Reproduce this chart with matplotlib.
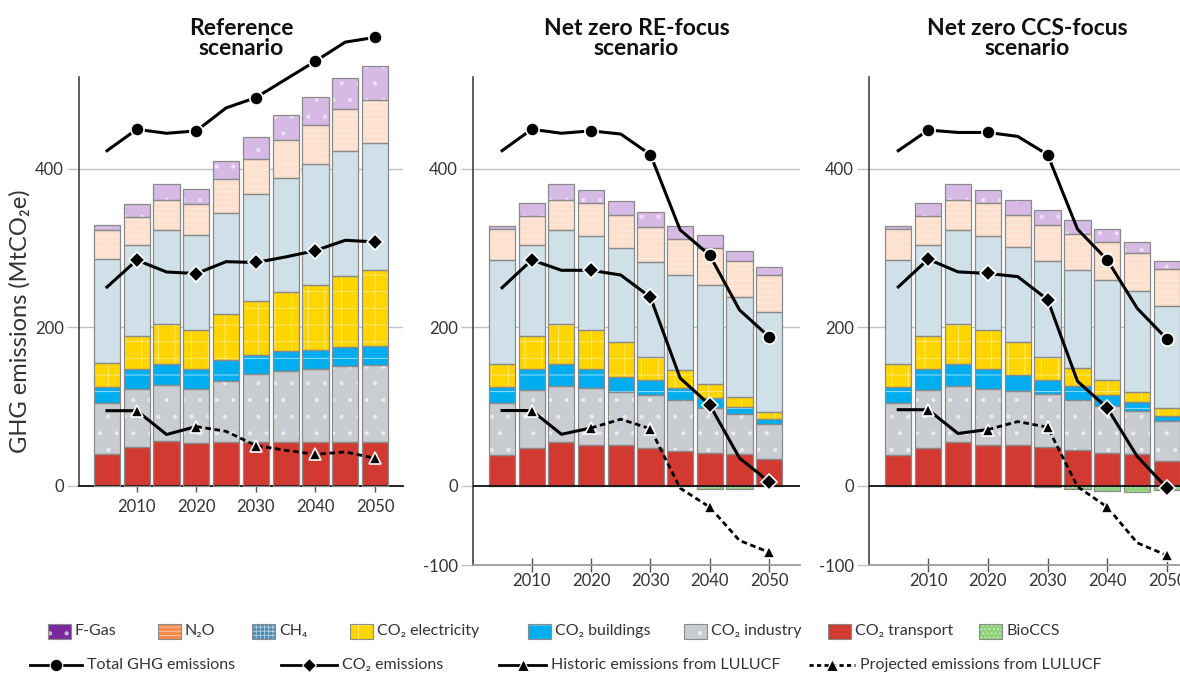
import matplotlib
matplotlib.use("Agg")
import matplotlib.pyplot as plt
from matplotlib.patches import Rectangle
from matplotlib.lines import Line2D

plt.rcParams['font.family'] = ['Lato', 'DejaVu Sans']
plt.rcParams['hatch.linewidth'] = 0.6

# ---------------- data ----------------
years = [2005, 2010, 2015, 2020, 2025, 2030, 2035, 2040, 2045, 2050]
hist_years = [2005, 2010, 2015, 2020]
proj_years = [2020, 2025, 2030, 2035, 2040, 2045, 2050]

titles = ["Reference\nscenario", "Net zero RE-focus\nscenario", "Net zero CCS-focus\nscenario"]

# Reference scenario (MtCO2e)
ref_transport = [41, 49, 57, 54, 55, 55, 55, 55, 55, 55]
ref_industry = [64, 73, 70, 69, 78, 86, 90, 93, 96, 98]
ref_buildings = [20, 26, 27, 25, 26, 24, 25, 24, 24, 24]
ref_electricity = [30, 41, 50, 49, 58, 68, 75, 82, 90, 95]
ref_ch4 = [131, 115, 119, 120, 128, 136, 144, 152, 158, 161]
ref_n2o = [37, 36, 38, 39, 42, 44, 47, 49, 52, 54]
ref_fgas = [6, 16, 20, 19, 23, 27, 32, 36, 40, 43]
ref_bioccs = [0, 0, 0, 0, 0, 0, 0, 0, 0, 0]
ref_total = [423, 450, 445, 448, 477, 490, 513, 536, 560, 566]
ref_co2 = [251, 285, 270, 268, 283, 282, 289, 297, 310, 308]
ref_lulucf_hist = [95, 95, 65, 75]
ref_lulucf_proj = [75, 69, 51, 45, 40, 43, 35]

# Net zero RE-focus scenario
re_transport = [39, 47.5, 55.5, 51.7, 50.9, 47.5, 43.3, 41.2, 40, 33.6]
re_industry = [65, 74, 71, 71.5, 67, 66.5, 64.4, 57, 51, 44.6]
re_buildings = [21, 26, 27.4, 24, 19, 19, 16.3, 12.6, 9, 6]
re_electricity = [28.6, 42, 50, 49.6, 45, 29.5, 22.4, 17.7, 11.9, 8.8]
re_ch4 = [131, 115, 119, 119, 118, 120, 120, 125, 126, 126]
re_n2o = [39, 36, 38, 41, 42, 44, 45, 47, 46, 47.5]
re_fgas = [4, 16, 20, 17, 18, 19, 17, 16, 12.5, 10]
re_bioccs = [0, 0, 0, 0, 0, 0, 0, -3.5, -3.5, 0]
re_total = [423, 450, 445, 448, 444, 418, 323, 291, 222, 188]
re_co2 = [250, 285, 272, 272, 266, 238, 136, 102, 35, 5]
re_lulucf_hist = [95, 95, 65, 73]
re_lulucf_proj = [73, 84, 72, -3, -27, -69, -84]

# Net zero CCS-focus scenario
ccs_transport = [39.1, 47.5, 55.5, 51.7, 50.9, 48.4, 44.6, 41.2, 40, 31.5]
ccs_industry = [65, 74, 71, 70.3, 69, 67.3, 64, 60, 55, 49.7]
ccs_buildings = [21, 26, 27, 25, 20, 18, 17, 13.4, 11, 7]
ccs_electricity = [28.6, 41, 50.4, 49.6, 41.3, 29.4, 23.2, 19, 12.2, 9.7]
ccs_ch4 = [131, 116, 119, 119, 120, 121, 123, 126, 128, 129]
ccs_n2o = [39, 36, 38, 41, 41, 44.6, 46.3, 47.6, 47.6, 46.7]
ccs_fgas = [4, 16, 20, 17, 18, 19.4, 16.8, 16.8, 13.4, 10.5]
ccs_bioccs = [0, 0, 0, 0, 0, -1.5, -4, -7, -8, -5]
ccs_total = [423, 449, 446, 446, 441, 418, 324, 285, 224, 185]
ccs_co2 = [251, 286, 270, 268, 264, 235, 132, 98, 37, -3]
ccs_lulucf_hist = [96, 96, 66, 71]
ccs_lulucf_proj = [71, 81, 74, -1, -27, -72, -88]

category_labels = ["F-Gas", "N₂O", "CH₄", "CO₂ electricity", "CO₂ buildings",
                   "CO₂ industry", "CO₂ transport", "BioCCS"]
line_labels = ["Total GHG emissions", "CO₂ emissions",
               "Historic emissions from LULUCF", "Projected emissions from LULUCF"]

# ---------------- styles ----------------
stack_keys = ["transport", "industry", "buildings", "electricity", "ch4", "n2o", "fgas"]
bar_colors = {"transport": "#d23a31", "industry": "#c9cdd1", "buildings": "#00aeef",
              "electricity": "#ffd500", "ch4": "#cfe0e8", "n2o": "#fde0cd",
              "fgas": "#d6b9e4", "bioccs": "#8fd27c"}
bar_hatch = {"transport": "", "industry": ".", "buildings": "-",
             "electricity": "+", "ch4": "", "n2o": "---", "fgas": ".", "bioccs": "...."}
hatch_alpha = {"transport": 0.0, "industry": 0.55, "buildings": 0.7,
               "electricity": 0.55, "ch4": 0.0, "n2o": 0.45, "fgas": 0.5, "bioccs": 0.5}
leg_colors = ["#7a2a9c", "#f58a4a", "#4a8cb3", "#ffd500", "#00aeef",
              "#c9cdd1", "#d23a31", "#8fd27c"]
leg_hatch = [".", "----", "++++", "+", "-", ".", "", "...."]

scen = [
    dict(transport=ref_transport, industry=ref_industry, buildings=ref_buildings,
         electricity=ref_electricity, ch4=ref_ch4, n2o=ref_n2o, fgas=ref_fgas,
         bioccs=ref_bioccs, total=ref_total, co2=ref_co2,
         hist=ref_lulucf_hist, proj=ref_lulucf_proj),
    dict(transport=re_transport, industry=re_industry, buildings=re_buildings,
         electricity=re_electricity, ch4=re_ch4, n2o=re_n2o, fgas=re_fgas,
         bioccs=re_bioccs, total=re_total, co2=re_co2,
         hist=re_lulucf_hist, proj=re_lulucf_proj),
    dict(transport=ccs_transport, industry=ccs_industry, buildings=ccs_buildings,
         electricity=ccs_electricity, ch4=ccs_ch4, n2o=ccs_n2o, fgas=ccs_fgas,
         bioccs=ccs_bioccs, total=ccs_total, co2=ccs_co2,
         hist=ccs_lulucf_hist, proj=ccs_lulucf_proj),
]

W, H = 1180, 675
fig = plt.figure(figsize=(W / 100, H / 100), dpi=100)

def px_axes(l, t, r, b):
    return fig.add_axes([l / W, 1 - b / H, (r - l) / W, (b - t) / H])

axes = [px_axes(79, 77, 403, 486), px_axes(473, 77, 800, 565), px_axes(869, 77, 1185, 565)]
xlims = [(2000.3, 2054.7), (2000.1, 2055.2), (2000.1, 2053.0)]

txt = "#333333"
grid_c = "#b9c5cd"
bw = 4.4

for i, (ax, d) in enumerate(zip(axes, scen)):
    bottom = [0.0] * len(years)
    for k in stack_keys:
        vals = d[k]
        ax.bar(years, vals, bw, bottom=bottom, color=bar_colors[k], hatch=bar_hatch[k],
               edgecolor=(1, 1, 1, hatch_alpha[k]), linewidth=0, zorder=2, clip_on=False)
        ax.bar(years, vals, bw, bottom=bottom, facecolor="none",
               edgecolor="#8a8a8a", linewidth=0.9, zorder=3, clip_on=False)
        bottom = [b + v for b, v in zip(bottom, vals)]
    if any(v != 0 for v in d["bioccs"]):
        ax.bar(years, d["bioccs"], bw, color=bar_colors["bioccs"], hatch=bar_hatch["bioccs"],
               edgecolor=(1, 1, 1, hatch_alpha["bioccs"]), linewidth=0, zorder=2)
        ax.bar(years, d["bioccs"], bw, facecolor="none", edgecolor="#8a8a8a",
               linewidth=0.9, zorder=3)

    ax.set_xlim(*xlims[i])
    if i == 0:
        ax.set_ylim(0, 516)
        ax.set_yticks([0, 200, 400])
    else:
        ax.set_ylim(-100, 516)
        ax.set_yticks([-100, 0, 200, 400])
    ax.set_yticklabels([str(t) for t in ax.get_yticks().astype(int)])
    ax.set_xticks([2010, 2020, 2030, 2040, 2050])
    for t in [200, 400]:
        ax.axhline(t, color=grid_c, lw=1.0, zorder=1)

    for s in ["top", "right"]:
        ax.spines[s].set_visible(False)
    ax.spines["left"].set_color("#333333")
    ax.spines["left"].set_linewidth(1.1)
    if i == 0:
        ax.spines["bottom"].set_color("#111111")
        ax.spines["bottom"].set_linewidth(1.3)
        ax.tick_params(axis="x", direction="out", length=4, width=1, color="#555555",
                       labelsize=12, labelcolor=txt, pad=5)
    else:
        ax.spines["bottom"].set_color("#9a9a9a")
        ax.spines["bottom"].set_linewidth(1.3)
        ax.axhline(0, color="#111111", lw=1.3, zorder=4)
        ax.tick_params(axis="x", direction="inout", length=10, width=1, color="#555555",
                       labelsize=12, labelcolor=txt, pad=1)
    ax.tick_params(axis="y", direction="out", length=9, width=1, color=grid_c,
                   labelsize=12, labelcolor=txt, pad=2)
    for tk, val in zip(ax.yaxis.get_major_ticks(), ax.get_yticks()):
        if val == 0:
            tk.tick1line.set_color("#111111")
        if val == -100:
            tk.tick1line.set_color("#9a9a9a")
    ax.set_facecolor("none")

    # lines
    ax.plot(years, d["total"], color="black", lw=2.2, marker="o", markersize=9.5,
            markerfacecolor="black", markeredgecolor="white", markeredgewidth=1.2,
            markevery=slice(1, None, 2), clip_on=False, zorder=6)
    ax.plot(years, d["co2"], color="black", lw=2.2, marker="D", markersize=8,
            markerfacecolor="black", markeredgecolor="white", markeredgewidth=1.2,
            markevery=slice(1, None, 2), clip_on=False, zorder=6)
    ax.plot(hist_years, d["hist"], color="black", lw=2.2, marker="^", markersize=9,
            markerfacecolor="black", markeredgecolor="white", markeredgewidth=1.2,
            markevery=slice(1, None, 2), clip_on=False, zorder=6)
    ax.plot(proj_years, d["proj"], color="black", lw=2.0, linestyle=(0, (2.0, 1.3)),
            marker="^", markersize=9, markerfacecolor="black", markeredgecolor="white",
            markeredgewidth=1.2, markevery=slice(2, None, 2), clip_on=False, zorder=6)

    ax.set_title(titles[i], fontsize=16.5, fontweight="bold", color="#111111",
                 pad=16, linespacing=0.95)

axes[0].set_ylabel("GHG emissions (MtCO₂e)", fontsize=17, color=txt)
axes[0].yaxis.set_label_coords(-0.148, 0.403)

# ---------------- legend (figure pixel coordinates) ----------------
lg = fig.add_axes([0, 0, 1, 1])
lg.set_xlim(0, W)
lg.set_ylim(H, 0)
lg.axis("off")
lg.patch.set_alpha(0)

row1_y = 631
patch_x = [48, 158, 252, 350, 528, 684, 828, 979]
for x, c, h, lab in zip(patch_x, leg_colors, leg_hatch, category_labels):
    lg.add_patch(Rectangle((x, row1_y - 7.5), 23, 15, facecolor=c, hatch=h,
                           edgecolor=(1, 1, 1, 0.6), linewidth=0))
    lg.add_patch(Rectangle((x, row1_y - 7.5), 23, 15, facecolor="none",
                           edgecolor="#8a8a8a", linewidth=0.8))
    lg.text(x + 27, row1_y, lab, fontsize=11.5, color=txt, va="center", ha="left")

row2_y = 665
handles = [(30, 82, "o", "-", 9), (281, 337, "D", "-", 7.5),
           (499, 546, "^", "-", 8), (809, 855, "^", (0, (1.5, 1.2)), 8)]
for (x0, x1, m, ls, ms), lab in zip(handles, line_labels):
    lg.add_line(Line2D([x0, x1], [row2_y, row2_y], color="black", lw=2, linestyle=ls))
    lg.add_line(Line2D([(x0 + x1) / 2], [row2_y], marker=m, markersize=ms,
                       color="black", markeredgecolor="white", markeredgewidth=0.8))
    lg.text(x1 + 5, row2_y, lab, fontsize=11.5, color=txt, va="center", ha="left")

fig.savefig("out.png", dpi=100)
